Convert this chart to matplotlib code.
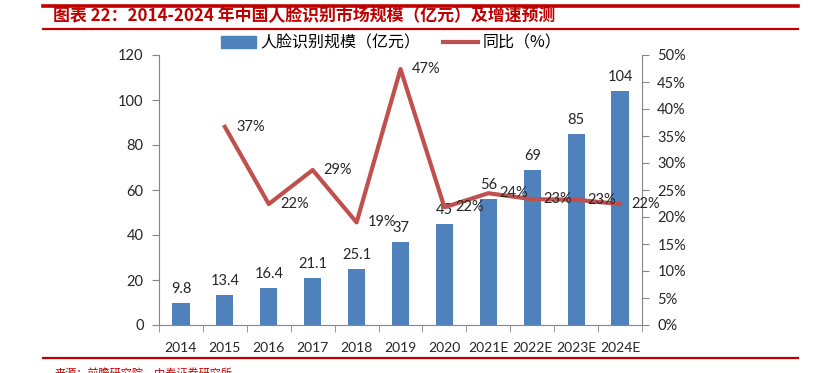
import matplotlib

matplotlib.use("Agg")
import matplotlib.pyplot as plt  # noqa: E402
from matplotlib.lines import Line2D  # noqa: E402
from matplotlib.patches import Patch  # noqa: E402

plt.rcParams["font.family"] = ["Noto Sans CJK SC", "DejaVu Sans"]

YEARS = ["2014", "2015", "2016", "2017", "2018", "2019", "2020",
         "2021E", "2022E", "2023E", "2024E"]
MARKET = [9.8, 13.4, 16.4, 21.1, 25.1, 37, 45, 56, 69, 85, 104]
MARKET_LABELS = ["9.8", "13.4", "16.4", "21.1", "25.1", "37", "45",
                 "56", "69", "85", "104"]
GROWTH = [None, 36.7, 22.4, 28.7, 19.0, 47.4, 21.8, 24.4, 23.3, 23.2, 22.4]
GROWTH_LABELS = [None, "37%", "22%", "29%", "19%", "47%", "22%",
                 "24%", "23%", "23%", "22%"]

BLUE = "#4f81bd"
RED_LINE = "#c0504d"
RED = "#c00000"
INK = "#262626"
AXIS = "#868686"
NUM_FONT = ["Lato", "DejaVu Sans"]

fig = plt.figure(figsize=(8.13, 3.73), dpi=100)
fig.patch.set_facecolor("white")
ax = fig.add_axes([159 / 813, 1 - 325 / 373, (642 - 159) / 813, 270 / 373])
ax2 = ax.twinx()

x = list(range(len(YEARS)))
ax.bar(x, MARKET, width=0.39, color=BLUE, zorder=2)
for xi, v, lbl in zip(x, MARKET, MARKET_LABELS):
    ax.annotate(lbl, (xi, v), xytext=(0, 5), textcoords="offset points",
                ha="center", va="bottom", fontsize=10.5, color=INK,
                family=NUM_FONT)

gx = [xi for xi, g in zip(x, GROWTH) if g is not None]
gy = [g for g in GROWTH if g is not None]
ax2.plot(gx, gy, color=RED_LINE, linewidth=3, zorder=3)
for xi, g, lbl in zip(x, GROWTH, GROWTH_LABELS):
    if g is None:
        continue
    ax2.annotate(lbl, (xi, g), xytext=(8, 0), textcoords="offset points",
                 ha="left", va="center", fontsize=10.5, color=INK,
                 family=NUM_FONT)

ax.set_xlim(-0.5, len(YEARS) - 0.5)
ax.set_ylim(0, 120)
ax.set_yticks(range(0, 121, 20))
ax2.set_ylim(0, 50)
ax2.set_yticks(range(0, 51, 5))
ax2.set_yticklabels([f"{t}%" for t in range(0, 51, 5)])

ax.set_xticks(x)
ax.set_xticklabels(YEARS)
ax.set_xticks([i - 0.5 for i in range(len(YEARS) + 1)], minor=True)
ax.tick_params(axis="x", which="major", length=0, pad=12)
ax.tick_params(axis="x", which="minor", length=5, color=AXIS)

for a in (ax, ax2):
    a.spines["top"].set_visible(False)
    for side in ("left", "right", "bottom"):
        a.spines[side].set_color(AXIS)
    a.tick_params(axis="y", length=5, color=AXIS, labelsize=10.5,
                  labelcolor=INK, pad=6)
    for t in a.get_yticklabels():
        t.set_family(NUM_FONT)
ax.spines["right"].set_visible(False)
ax2.spines["left"].set_visible(False)
ax2.spines["bottom"].set_visible(False)
ax.tick_params(axis="x", labelsize=10, labelcolor=INK)
for t in ax.get_xticklabels():
    t.set_family(NUM_FONT)

handles = [Patch(color=BLUE), Line2D([0], [0], color=RED_LINE, linewidth=3)]
fig.legend(handles, ["人脸识别规模（亿元）", "同比（%）"], loc="center",
           bbox_to_anchor=(391 / 813, 1 - 43 / 373), ncol=2, frameon=False,
           fontsize=11.5, handlelength=2.2, columnspacing=1.4,
           handletextpad=0.3)

# page frame: red rules, title, source
for y, lw in ((6, 2.6), (29, 1.6), (358, 1.6)):
    fig.add_artist(Line2D([43 / 813, 798 / 813], [1 - y / 373] * 2,
                          color=RED, linewidth=lw))
fig.text(53 / 813, 1 - 16 / 373,
         "图表 22：2014-2024 年中国人脸识别市场规模（亿元）及增速预测",
         color=RED, fontsize=12.2, fontweight="bold", style="italic",
         ha="left", va="center")
fig.text(55 / 813, 1 - 373 / 373, "来源：前瞻研究院，中泰证券研究所",
         color=RED, fontsize=8, ha="left", va="center")

fig.savefig("out.png", dpi=100, facecolor="white")
